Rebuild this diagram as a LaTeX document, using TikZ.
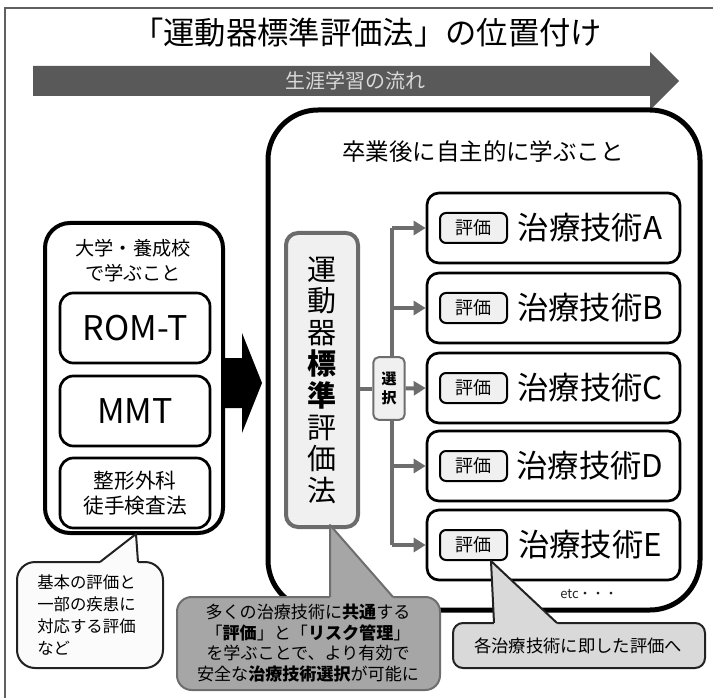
\documentclass[tikz,border=0pt]{standalone}
\usepackage{fontspec}
\setmainfont{Noto Sans CJK JP}
\usetikzlibrary{arrows.meta}
\definecolor{framegray}{HTML}{606060}
\definecolor{flowgray}{HTML}{595959}
\definecolor{flowtext}{HTML}{D9D9D9}
\definecolor{stdborder}{HTML}{6B6B6B}
\definecolor{stdfill}{HTML}{F0F0F0}
\definecolor{conngray}{HTML}{6D6D6D}
\definecolor{midfill}{HTML}{A6A6A6}
\definecolor{midborder}{HTML}{6E6E6E}
\definecolor{rightfill}{HTML}{D9D9D9}
\definecolor{leftfill}{HTML}{FBFBFB}
\definecolor{dark}{HTML}{222222}
\newcommand{\fsz}[2]{\fontsize{#1}{#2}\selectfont}
\begin{document}
\begin{tikzpicture}[x=0.75pt,y=-0.75pt,
  container/.style={draw=black, line width=3pt, rounded corners=18.75pt, fill=white, inner sep=0pt},
  bigcontainer/.style={draw=black, line width=3.75pt, rounded corners=37.5pt, fill=white, inner sep=0pt},
  schoolbox/.style={draw=black, line width=2pt, rounded corners=10pt, fill=white, inner sep=0pt,
      minimum width=112.5pt, minimum height=52.5pt, align=center},
  treatbox/.style={draw=black, line width=2pt, rounded corners=9pt, fill=white, inner sep=0pt,
      minimum width=189.75pt, minimum height=52.5pt},
  evalbox/.style={draw=black, line width=1.5pt, rounded corners=4.5pt, fill=stdfill, inner sep=0pt,
      minimum width=50.25pt, minimum height=22.5pt, font=\fsz{13.5pt}{16pt}},
  treattext/.style={font=\fsz{23.5pt}{28pt}, inner sep=0pt},
  conn/.style={draw=conngray, line width=3pt},
  connarrow/.style={conn, -{Triangle[length=9pt,width=10.5pt]}},
  callouttext/.style={align=center, inner sep=0pt},
]
\useasboundingbox (0,0) rectangle (713,698);
% outer frame
\draw[framegray, line width=1.5pt] (5,700) -- (5,8) -- (715,8);
% title
\node[font=\fsz{23.5pt}{28pt}] (title) at (367,33) {「運動器標準評価法」の位置付け};
% lifelong learning arrow
\fill[flowgray] (33,66) -- (650,66) -- (650,52) -- (679,81) -- (650,110) -- (650,96) -- (33,96) -- cycle;
\node[text=flowtext, font=\fsz{15pt}{18pt}] (flow) at (355,81) {生涯学習の流れ};

% big right container
\node[bigcontainer, minimum width=324pt, minimum height=375pt] (after) at (484,360) {};
\node[font=\fsz{17.6pt}{21pt}] (aftertitle) at (483,152) {卒業後に自主的に学ぶこと};

% left container
\node[container, minimum width=133.5pt, minimum height=232.5pt] (school) at (134,378) {};
\node[font=\fsz{14.4pt}{18.75pt}, align=center] (schooltitle) at (133,261) {大学・養成校\\で学ぶこと};
\node[schoolbox, font=\fsz{25.5pt}{30pt}] (rom) at (135,328) {ROM-T};
\node[schoolbox, font=\fsz{25.5pt}{30pt}] (mmt) at (135,411) {MMT};
\node[schoolbox, font=\fsz{15.5pt}{19pt}] (ortho) at (135,493) {整形外科\\徒手検査法};

% black arrow
\fill[black] (223,358) -- (242,358) -- (242,333) -- (262,383) -- (242,433) -- (242,408) -- (223,408) -- cycle;

% standard evaluation box
\node[draw=stdborder, line width=3pt, rounded corners=9pt, fill=stdfill, inner sep=0pt,
      minimum width=54pt, minimum height=220.5pt, align=center, font=\fsz{21.75pt}{23.7pt}]
      (std) at (322,380) {運\\動\\器\\\textbf{標}\\\textbf{準}\\評\\価\\法};

% selection box
\node[draw=conngray, line width=1.5pt, rounded corners=4pt, fill=stdfill, inner sep=0pt,
      minimum width=23.5pt, minimum height=47pt, align=center, font=\bfseries\fsz{11.25pt}{14pt}]
      (sel) at (389,388.5) {選\\択};

% treatment boxes
\foreach \n/\y in {A/228,B/308,C/388,D/466,E/545}{
  \node[treatbox] (t\n) at (553.5,\y) {};
  \node[evalbox] (e\n) at (473.5,\y) {評価};
  \node[treattext] (l\n) at (590,\y) {治療技術\n};
  \coordinate (k\n) at (392,\y);
}
% connectors
\draw[conn] (kA) -- (kA |- sel.north);
\draw[conn] (kE |- sel.south) -- (kE);
\draw[conn] (std.east |- sel.west) -- (sel.west);
\draw[connarrow] (kA) -- (tA.west);
\draw[connarrow] (kB) -- (tB.west);
\draw[connarrow] (sel.east) -- (tC.west);
\draw[connarrow] (kD) -- (tD.west);
\draw[connarrow] (kE) -- (tE.west);

\node[font=\fsz{9.75pt}{12pt}, text=dark] (etc) at (589,594) {etc・・・};

% left callout
\node[draw=dark, line width=1.5pt, rounded corners=13.5pt, fill=leftfill, inner sep=0pt,
      minimum width=109.5pt, minimum height=79.5pt] (c1) at (90,615) {};
\coordinate (c1tip) at (136,534);
\coordinate (c1l) at (100,562);
\coordinate (c1r) at (138,562);
\fill[leftfill] (c1tip) -- (c1l) -- ([yshift=-2pt]c1l) -- ([yshift=-2pt]c1r) -- (c1r) -- cycle;
\draw[dark, line width=1.5pt, line join=round] (c1l) -- (c1tip) -- (c1r);
\node[anchor=west, align=left, inner sep=0pt, font=\fsz{12.3pt}{16.3pt}] (c1text) at (37,615)
  {基本の評価と\\一部の疾患に\\対応する評価\\など};

% middle callout
\node[draw=midborder, line width=1.5pt, rounded corners=11pt, fill=midfill, inner sep=0pt,
      minimum width=197.25pt, minimum height=69.75pt] (c2) at (308.5,643.5) {};
\coordinate (c2tip) at (330,525);
\coordinate (c2l) at (330,597);
\coordinate (c2r) at (393,597);
\fill[midfill] (c2tip) -- (c2l) -- ([yshift=-2pt]c2l) -- ([yshift=-2pt]c2r) -- (c2r) -- cycle;
\draw[midborder, line width=1.5pt, line join=round] (c2l) -- (c2tip) -- (c2r);
\node[callouttext, font=\fsz{12.8pt}{15.3pt}] (c2text) at (308,643)
  {多くの治療技術に\textbf{共通}する\\「\textbf{評価}」と「\textbf{リスク管理}」\\を学ぶことで、より有効で\\安全な\textbf{治療技術選択}が可能に};

% right callout
\node[draw=dark, line width=1.5pt, rounded corners=7.5pt, fill=rightfill, inner sep=0pt,
      minimum width=189pt, minimum height=33.75pt] (c3) at (579,645.5) {};
\coordinate (c3tip) at (491,561);
\coordinate (c3l) at (494,623);
\coordinate (c3r) at (557,623);
\fill[rightfill] (c3tip) -- (c3l) -- ([yshift=-2pt]c3l) -- ([yshift=-2pt]c3r) -- (c3r) -- cycle;
\draw[dark, line width=1.5pt, line join=round] (c3l) -- (c3tip) -- (c3r);
\node[callouttext, font=\fsz{13pt}{16pt}] (c3text) at (578,646) {各治療技術に即した評価へ};
\end{tikzpicture}
\end{document}
